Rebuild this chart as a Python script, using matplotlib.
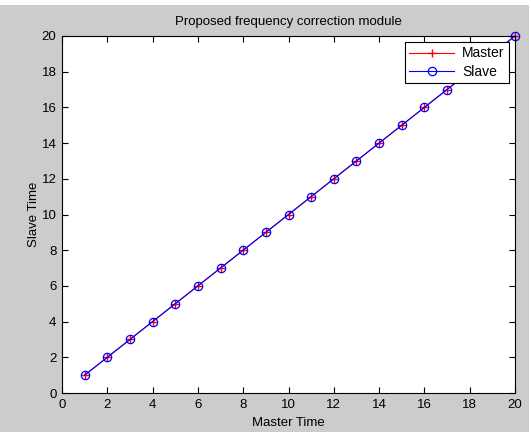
import matplotlib

matplotlib.use("Agg")

import matplotlib.pyplot as plt  # noqa: E402

master_time = [1, 2, 3, 4, 5, 6, 7, 8, 9, 10, 11, 12, 13, 14, 15, 16, 17, 20]
master_values = [1, 2, 3, 4, 5, 6, 7, 8, 9, 10, 11, 12, 13, 14, 15, 16, 17, 20]
slave_values = [1, 2, 3, 4, 5, 6, 7, 8, 9, 10, 11, 12, 13, 14, 15, 16, 17, 20]
x_ticks = [0, 2, 4, 6, 8, 10, 12, 14, 16, 18, 20]
y_ticks = [0, 2, 4, 6, 8, 10, 12, 14, 16, 18, 20]

plt.rcParams["font.family"] = ["Liberation Sans", "DejaVu Sans"]

fig = plt.figure(figsize=(5.29, 4.32), dpi=100, facecolor="#cccccc")
# thin white strip along the top edge of the screenshot
fig.patches.append(plt.Rectangle((0, 1 - 5 / 432), 1, 5 / 432, transform=fig.transFigure,
                                 facecolor="white", edgecolor="none", zorder=0))

ax = fig.add_axes([62 / 529, 39 / 432, 453 / 529, 357 / 432])
ax.plot(master_time, master_values, color="red", marker="+", markersize=6,
        markeredgewidth=1.0, linewidth=0.8, label="Master", clip_on=False)
ax.plot(master_time, slave_values, color="blue", marker="o", markersize=6,
        markerfacecolor="none", markeredgewidth=0.9, linewidth=0.8, label="Slave",
        clip_on=False)

ax.set_xlim(0, 20)
ax.set_ylim(0, 20)
ax.set_xticks(x_ticks)
ax.set_yticks(y_ticks)
ax.tick_params(direction="in", top=True, right=True, length=4, width=0.8,
               labelsize=9.5, colors="black", pad=4)
for spine in ax.spines.values():
    spine.set_linewidth(0.8)

ax.set_title("Proposed frequency correction module", fontsize=9.5, pad=8)
ax.set_xlabel("Master Time", fontsize=9.5, labelpad=5)
ax.set_ylabel("Slave Time", fontsize=9.5, labelpad=1)

leg = ax.legend(loc="upper right", fontsize=10, fancybox=False, framealpha=1,
                edgecolor="black", borderaxespad=0.45, handlelength=3.2,
                borderpad=0.3, labelspacing=0.3, handletextpad=0.6)
leg.get_frame().set_linewidth(0.8)

fig.savefig("out.png", dpi=100, facecolor=fig.get_facecolor())
